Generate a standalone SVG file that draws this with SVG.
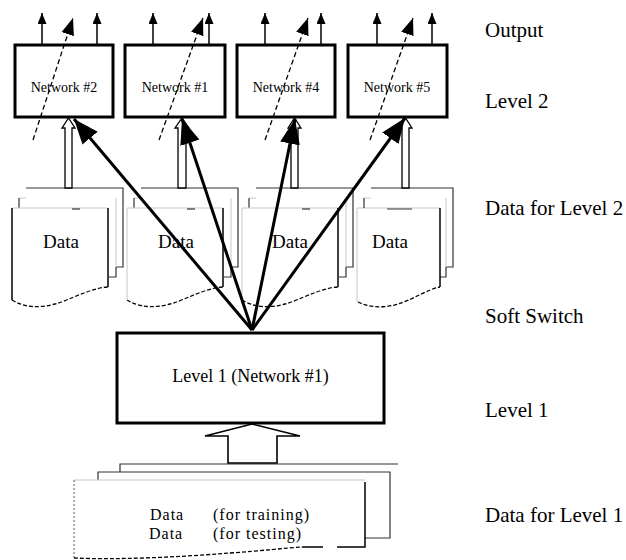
<svg xmlns="http://www.w3.org/2000/svg" width="626" height="560" viewBox="0 0 626 560">
<style>
text{font-family:"Liberation Serif","Times New Roman",serif;fill:#000}
.lbl{font-size:21px}
.net{font-size:14px;text-anchor:middle}
.dt{font-size:19px;text-anchor:middle}
.d1{font-size:16px;letter-spacing:1px}
.box{fill:#fff;stroke:#000;stroke-width:3}
.back{fill:none;stroke:#333;stroke-width:1.2}
.faint{fill:none;stroke:#c8c8c8;stroke-width:1}
.front{fill:none;stroke:#000;stroke-width:1.5}
.wavy{fill:none;stroke:#000;stroke-width:1.3;stroke-dasharray:4 2}
.hollow{fill:#fff;stroke:#000;stroke-width:1.3}
.out{stroke:#000;stroke-width:1.5;fill:none;marker-end:url(#outHead)}
.dash{stroke:#000;stroke-width:1.3;fill:none;stroke-dasharray:5 3;marker-end:url(#dashHead)}
.big{stroke:#000;stroke-width:3;fill:none;marker-end:url(#bigHead)}
</style>
<defs>
<marker id="outHead" markerUnits="userSpaceOnUse" markerWidth="12" markerHeight="10" refX="11" refY="4.5" orient="auto"><path d="M0,0 L11,4.5 L0,9 z" fill="#000"/></marker>
<marker id="dashHead" markerUnits="userSpaceOnUse" markerWidth="18" markerHeight="14" refX="17" refY="6.5" orient="auto"><path d="M0,0 L17,6.5 L0,13 z" fill="#000"/></marker>
<marker id="bigHead" markerUnits="userSpaceOnUse" markerWidth="28" markerHeight="22" refX="25" refY="10" orient="auto"><path d="M0,0 L25,10 L0,20 z" fill="#000"/></marker>
<g id="docShape">
<path class="back" d="M26,188 H123 V267 H116"/>
<path class="faint" d="M19,198 H26 M116,198 V267"/>
<path class="back" d="M19,198 V208 M116,267 V277 H109"/>
<path class="faint" d="M12,208 H108"/>
<path class="back" d="M72,209 H80"/>
<path class="front" d="M108,208 V287"/>
<path class="wavy" d="M12,300 C25,308 40,308 55,304 C70,300 90,288 108,287"/>
</g>
</defs>
<rect width="626" height="560" fill="#fff"/>

<g id="labels">
<text class="lbl" x="485" y="37">Output</text>
<text class="lbl" x="485" y="108">Level 2</text>
<text class="lbl" x="485" y="215">Data for Level 2</text>
<text class="lbl" x="485" y="323">Soft Switch</text>
<text class="lbl" x="485" y="417">Level 1</text>
<text class="lbl" x="485" y="522">Data for Level 1</text>
</g>

<g id="data2-1">
<use href="#docShape"/>
<path class="front" d="M12,208 V300"/>
<text class="dt" x="61" y="248">Data</text>
</g>
<g id="data2-2">
<use href="#docShape" transform="translate(115,0)"/>
<path class="faint" d="M127,208 V300"/>
<text class="dt" x="176" y="248">Data</text>
</g>
<g id="data2-3">
<use href="#docShape" transform="translate(230,0)"/>
<path class="faint" d="M242,208 V302"/>
<text class="dt" x="290" y="248">Data</text>
</g>
<g id="data2-4">
<path class="back" d="M371,188 H453 V267 H446"/>
<path class="faint" d="M364,198 H371 M446,198 V267 M357,208 H440 M357,208 V302"/>
<path class="back" d="M364,198 V208 M446,267 V277 H440 M387,209 H412"/>
<path class="front" d="M440,208 V287"/>
<path class="wavy" d="M358,302 C370,308 385,308 398,304 C412,300 428,289 440,287"/>
<text class="dt" x="390" y="248">Data</text>
</g>

<g id="data1">
<path class="back" d="M120,472 V464 H398"/>
<path class="back" d="M98,480 V472 H390 V538 H365"/>
<path class="faint" d="M74,480 H365"/>
<path d="M74,480 V558" fill="none" stroke="#777" stroke-width="1.2" stroke-dasharray="2 2"/>
<path class="front" d="M365,482 V547 H337 M323,547 H303"/>
<path class="wavy" d="M74,558 C120,560 180,557 230,553 C260,551 285,548 303,547"/>
<text class="d1" x="150" y="520">Data</text>
<text class="d1" x="213" y="520">(for training)</text>
<text class="d1" x="149" y="539">Data</text>
<text class="d1" x="213" y="539">(for testing)</text>
</g>

<g id="net2"><rect class="box" x="15" y="45" width="98" height="72"/><text class="net" x="64" y="92">Network #2</text></g>
<g id="net1"><rect class="box" x="125" y="45" width="100" height="72"/><text class="net" x="175" y="92">Network #1</text></g>
<g id="net4"><rect class="box" x="237" y="45" width="98" height="72"/><text class="net" x="286" y="92">Network #4</text></g>
<g id="net5"><rect class="box" x="348" y="45" width="99" height="72"/><text class="net" x="397" y="92">Network #5</text></g>

<g id="level1"><rect class="box" x="117" y="333" width="267" height="90"/><text style="font-size:18px" x="250.5" y="382" text-anchor="middle">Level 1 (Network #1)</text></g>

<g id="connectors">
<polygon class="hollow" points="65,188 65,128 62,128 68.5,118 75,128 72,128 72,188"/>
<polygon class="hollow" points="178,188 178,128 175,128 182,118 189,128 186,128 186,188"/>
<polygon class="hollow" points="291,188 291,128 288,128 294.5,118 301,128 298,128 298,188"/>
<polygon class="hollow" points="402,188 402,128 399,128 405.5,118 412,128 409,128 409,188"/>
<polygon class="hollow" style="stroke-width:1.6" points="228,463 228,436 205,436 252,424 300,436 277,436 277,463"/>

<path class="out" d="M42,45 V13"/>
<path class="out" d="M97,45 V13"/>
<path class="out" d="M153,45 V13"/>
<path class="out" d="M209,45 V13"/>
<path class="out" d="M265,45 V13"/>
<path class="out" d="M321,45 V13"/>
<path class="out" d="M377,45 V13"/>
<path class="out" d="M432,45 V13"/>

<path class="dash" d="M33,140 L73,18"/>
<path class="dash" d="M159,140 L203,18"/>
<path class="dash" d="M265,140 L308,18"/>
<path class="dash" d="M370,140 L413,18"/>

<path class="big" d="M252,330 L74,119"/>
<path class="big" d="M252,330 L182,119"/>
<path class="big" d="M252,330 L295,119"/>
<path class="big" d="M252,330 L405,118"/>
</g>
</svg>
